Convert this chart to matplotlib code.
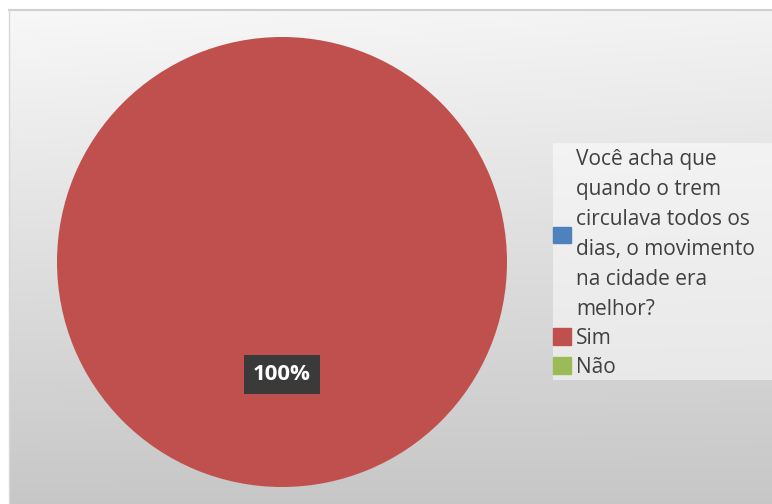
import numpy as np
import matplotlib
matplotlib.use("Agg")
import matplotlib.pyplot as plt
from matplotlib.patches import Patch, Rectangle

categories = ["Sim", "Não"]
values = [100, 0]
legend_title = "Você acha que\nquando o trem\ncirculava todos os\ndias, o movimento\nna cidade era\nmelhor?"
colors = {"title": "#4F81BD", "Sim": "#C0504D", "Não": "#9BBB59"}

W, H = 772, 504
fig = plt.figure(figsize=(W / 100, H / 100), dpi=100)
fig.patch.set_facecolor("white")

# background gradient panel
bx0, by_top = 9, 10
bg = fig.add_axes([bx0 / W, 0, (W - bx0) / W, (H - by_top) / H])
yy = np.linspace(0, 1, 200)[:, None]
xx = np.linspace(0, 1, 300)[None, :]
top, bottom = 0.972, 0.78
grad = top - (top - bottom) * yy - 0.02 * xx * (1 - yy)
bg.imshow(np.dstack([grad, grad, grad]), aspect="auto", extent=[0, 1, 0, 1], origin="upper")
bg.set_xlim(0, 1); bg.set_ylim(0, 1)
bg.axis("off")
bg.plot([0, 1], [1, 1], color="#d0d0d0", lw=1.5, transform=bg.transAxes, clip_on=False)
bg.plot([0, 0], [0, 1], color="#d8d8d8", lw=1, transform=bg.transAxes, clip_on=False)

# legend background
fig.patches.append(Rectangle((553 / W, 1 - 380 / H), (W - 553) / W, (380 - 143) / H,
                             transform=fig.transFigure, fc=(1, 1, 1, 0.5), ec="none", zorder=1))

# pie
cx, cy, r = 282, 262, 225
ax = fig.add_axes([(cx - r) / W, (H - cy - r) / H, 2 * r / W, 2 * r / H])
nz = [(c, v) for c, v in zip(categories, values) if v > 0]
wedges, texts = ax.pie([v for _, v in nz], colors=[colors[c] for c, _ in nz],
                       startangle=90, counterclock=False, radius=1)
ax.set_xlim(-1, 1); ax.set_ylim(-1, 1)
ax.set_aspect("auto")
ax.axis("off")
total = sum(values)
ax.text(0, -0.5, f"{values[0] / total * 100:.0f}%", ha="center", va="center",
        color="white", fontsize=16, fontweight="bold", family="Open Sans",
        bbox=dict(boxstyle="square,pad=0.42", fc="#3a3a3a", ec="none"))

# legend
handles = [Patch(color=colors["title"]), Patch(color=colors["Sim"]), Patch(color=colors["Não"])]
labels = [legend_title, categories[0], categories[1]]
leg = fig.legend(handles, labels, loc="upper left",
                 bbox_to_anchor=(553 / W, 1 - 149 / H), frameon=False,
                 prop={"family": "Open Sans", "size": 15}, labelcolor="#404040",
                 handlelength=0.85, handleheight=0.85, handletextpad=0.25,
                 borderpad=0.0, labelspacing=0.38, borderaxespad=0)
for t in leg.get_texts():
    t.set_linespacing(1.56)

fig.savefig("out.png", dpi=100)
